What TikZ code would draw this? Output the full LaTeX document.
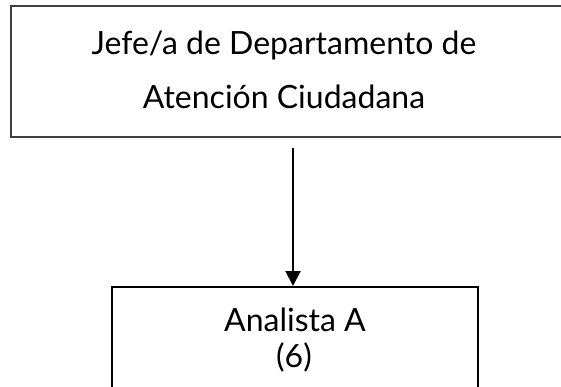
\documentclass[tikz,border=0pt]{standalone}
\usepackage{fontspec}
\setmainfont{Lato}
\usetikzlibrary{arrows.meta}
\begin{document}
\begin{tikzpicture}[x=1pt,y=1pt,
  topbox/.style={draw=black!75,line width=1.4pt,minimum width=551pt,minimum height=131pt,inner sep=0pt},
  botbox/.style={draw=black,line width=2pt,minimum width=366pt,minimum height=140pt,inner sep=0pt},
  lbl/.style={font=\fontsize{32}{54}\selectfont,align=center,inner sep=0pt},
  conn/.style={draw=black,line width=2pt,-{Triangle[length=15pt,width=15pt]}}]
\useasboundingbox (0,0) rectangle (561,-386);
\node[topbox] (top) at (286.5,-71.5) {};
\node[lbl,anchor=base] (t1) at (284,-54) {Jefe/a de Departamento de};
\node[lbl,anchor=base] (t2) at (284,-108) {Atención Ciudadana};
\node[botbox] (bot) at (295,-357) {};
\node[lbl,anchor=base] (b1) at (295,-331) {Analista A};
\node[lbl,anchor=base] (b2) at (294,-367) {(6)};
\coordinate (s) at (293,-148);
\draw[conn] (s) -- (s |- bot.north);
\end{tikzpicture}
\end{document}
